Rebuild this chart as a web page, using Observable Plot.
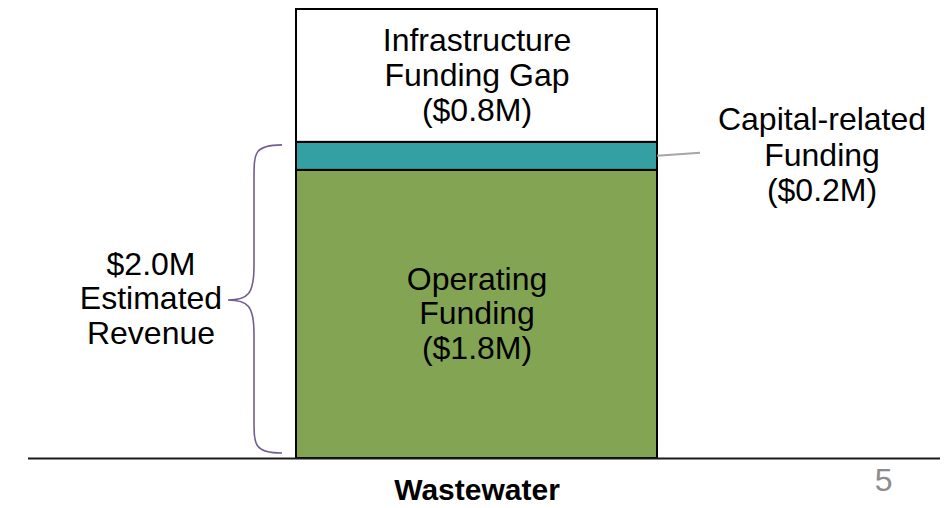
<!DOCTYPE html>
<html>
<head>
<meta charset="utf-8">
<script src="https://cdn.jsdelivr.net/npm/d3@7"></script>
<script src="https://cdn.jsdelivr.net/npm/@observablehq/plot@0.6"></script>
<style>
  html, body { margin: 0; padding: 0; background: #fff; }
  #chart { width: 945px; height: 508px; }
</style>
</head>
<body>
<div id="chart"></div>
<script>
const categories = ["Wastewater"];
const segments = ["Operating Funding", "Capital-related Funding", "Infrastructure Funding Gap"];
const values = [1.8, 0.175, 0.83];
const colors = ["#83A553", "#34A0A3", "#FFFFFF"];
const insideLabels = ["Operating\nFunding\n($1.8M)", "", "Infrastructure\nFunding Gap\n($0.8M)"];
const calloutLabel = "Capital-related\nFunding\n($0.2M)";
const revenueLabel = "$2.0M\nEstimated\nRevenue";
const pageNumber = "5";

// build stacked rows
let acc = 0;
const rows = segments.map((s, i) => {
  const r = {cat: categories[0], segment: s, y1: acc, y2: acc + values[i], mid: acc + values[i] / 2, label: insideLabels[i]};
  acc += values[i];
  return r;
});
const total = acc;
const revenue = values[0] + values[1];

const FONT = "'Liberation Sans', Arial, Helvetica, sans-serif";

function annotations() {
  const s = [...arguments].find(a => a && typeof a.y === "function" && typeof a.x === "function");
  const x0 = s.x(categories[0]);
  const bw = s.x.bandwidth();
  const x1 = x0 + bw;
  const g = d3.create("svg:g");
  // leader line for capital-related funding
  const yc = s.y(rows[1].mid);
  g.append("line")
    .attr("x1", x1).attr("y1", yc)
    .attr("x2", x1 + 43).attr("y2", yc - 3)
    .attr("stroke", "#A6A6A6").attr("stroke-width", 2);
  // curly brace for estimated revenue
  const top = s.y(revenue) + 3;
  const bot = s.y(0) - 5;
  const mid = s.y(revenue / 2);
  const xe = x0 - 14, xv = x0 - 42, xt = x0 - 68;
  const d = `M${xe},${top} C${xv},${top} ${xv},${top + 8} ${xv},${top + 34}`
    + ` L${xv},${mid - 34} C${xv},${mid - 6} ${xv - 6},${mid} ${xt},${mid}`
    + ` C${xv - 6},${mid} ${xv},${mid + 6} ${xv},${mid + 34}`
    + ` L${xv},${bot - 34} C${xv},${bot - 8} ${xv},${bot} ${xe},${bot}`;
  g.append("path").attr("d", d).attr("fill", "none")
    .attr("stroke", "#725D91").attr("stroke-width", 1.6);
  return g.node();
}

const plot = Plot.plot({
  width: 945,
  height: 508,
  marginTop: 9,
  marginBottom: 50,
  marginLeft: 28,
  marginRight: 5,
  style: {fontFamily: FONT, background: "#fff", overflow: "visible"},
  x: {domain: categories, range: [296, 657], padding: 0, label: null},
  y: {domain: [0, total], range: [458, 9], axis: null},
  color: {domain: segments, range: colors},
  marks: [
    Plot.barY(rows, {x: "cat", y1: "y1", y2: "y2", fill: "segment", stroke: "#000", strokeWidth: 2}),
    Plot.text(rows.filter(r => r.label), {x: "cat", y: "mid", text: "label", dy: -1, fontSize: 32, lineHeight: 1.08, fill: "#000"}),
    Plot.text([calloutLabel], {x: () => categories[0], y: () => rows[1].mid, text: d => d, dx: 345, dy: -2, fontSize: 32, lineHeight: 1.1, fill: "#000"}),
    Plot.text([revenueLabel], {x: () => categories[0], y: () => revenue / 2, text: d => d, dx: -326, dy: -2, fontSize: 32, lineHeight: 1.08, fill: "#000"}),
    annotations,
    Plot.ruleY([0], {stroke: "#1a1a1a", strokeWidth: 2}),
    Plot.axisX({tickSize: 0, tickPadding: 20, fontSize: 30, fontWeight: "bold", fill: "#000", label: null}),
    Plot.text([pageNumber], {frameAnchor: "bottom-right", text: d => d, dx: -48, dy: 22, textAnchor: "end", lineAnchor: "middle", fontSize: 32, fill: "#8C8C8C"})
  ]
});
document.getElementById("chart").appendChild(plot);
</script>
</body>
</html>
